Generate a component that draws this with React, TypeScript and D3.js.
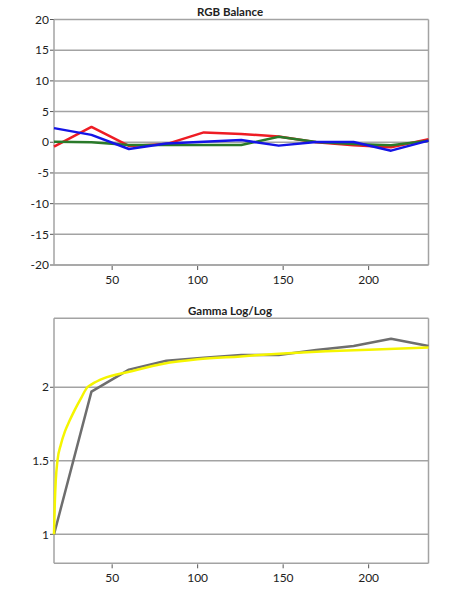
import React, { useEffect, useRef } from 'react';
import * as d3 from 'd3';

// stimulus levels (video 16-235, 10% steps)
const levels = [16, 37.9, 59.8, 81.7, 103.6, 125.5, 147.4, 169.3, 191.2, 213.1, 235];

// RGB balance deviations
const redBalance = [-0.7, 2.5, -0.6, -0.3, 1.6, 1.35, 0.95, 0.0, -0.5, -0.8, 0.5];
const greenBalance = [0.1, 0.0, -0.45, -0.45, -0.45, -0.45, 0.9, 0.05, -0.3, -0.5, 0.25];
const blueBalance = [2.3, 1.2, -1.1, -0.2, 0.1, 0.37, -0.55, 0.05, 0.05, -1.37, 0.27];

// measured gamma
const gammaMeasured = [1.0, 1.97, 2.12, 2.18, 2.2, 2.22, 2.22, 2.254, 2.28, 2.33, 2.28];

// target gamma curve
const targetX = [16, 16.5, 17, 18, 20, 22.4, 25, 28.3, 32, 35.5, 38, 45, 60, 80, 100, 125, 150, 175, 200, 235];
const targetY = [1.0, 1.22, 1.36, 1.5, 1.61, 1.7, 1.77, 1.85, 1.93, 2.0, 2.02, 2.06, 2.105, 2.16, 2.19, 2.21, 2.23, 2.245, 2.255, 2.27];

const balanceTicks = [-20, -15, -10, -5, 0, 5, 10, 15, 20];
const gammaTicks = [1, 1.5, 2];
const xTicks = [50, 100, 150, 200];

const FONT = 'Lato, "Open Sans", sans-serif';
const GRID = '#a3a3a3';

export default function App() {
    const svgRef = useRef<SVGSVGElement>(null);

    useEffect(() => {
        if (!svgRef.current) return;
        const svg = d3.select(svgRef.current);
        svg.selectAll('*').remove();

        const left = 54;
        const right = 428.5;

        const x = d3.scaleLinear().domain([16, 235]).range([left, right]);

        const drawXAxis = (yPos: number) => {
            const g = svg.append('g');
            g.append('line')
                .attr('x1', left).attr('x2', right)
                .attr('y1', yPos).attr('y2', yPos)
                .attr('stroke', GRID).attr('stroke-width', 1.5);
            g.selectAll('line.tick')
                .data(xTicks)
                .join('line')
                .attr('class', 'tick')
                .attr('x1', d => x(d)).attr('x2', d => x(d))
                .attr('y1', yPos + 1).attr('y2', yPos + 5)
                .attr('stroke', '#555').attr('stroke-width', 1);
            g.selectAll('text')
                .data(xTicks)
                .join('text')
                .attr('x', d => x(d))
                .attr('y', yPos + 19)
                .attr('text-anchor', 'middle')
                .attr('font-family', FONT)
                .attr('font-size', 12)
                .attr('fill', '#222')
                .text(d => d);
        };

        const drawYAxis = (y: d3.ScaleLinear<number, number>, ticks: number[], top: number, bottom: number) => {
            const g = svg.append('g');
            g.selectAll('line.grid')
                .data(ticks)
                .join('line')
                .attr('class', 'grid')
                .attr('x1', left).attr('x2', right)
                .attr('y1', d => y(d)).attr('y2', d => y(d))
                .attr('stroke', GRID).attr('stroke-width', 1.5);
            g.selectAll('line.tick')
                .data(ticks)
                .join('line')
                .attr('class', 'tick')
                .attr('x1', left - 4).attr('x2', left)
                .attr('y1', d => y(d)).attr('y2', d => y(d))
                .attr('stroke', '#555').attr('stroke-width', 1);
            g.selectAll('text')
                .data(ticks)
                .join('text')
                .attr('x', left - 5)
                .attr('y', d => y(d))
                .attr('dy', '0.35em')
                .attr('text-anchor', 'end')
                .attr('font-family', FONT)
                .attr('font-size', 12)
                .attr('fill', '#222')
                .text(d => d);
            // left and right borders
            g.append('line')
                .attr('x1', left).attr('x2', left)
                .attr('y1', top).attr('y2', bottom)
                .attr('stroke', GRID).attr('stroke-width', 1.5);
            g.append('line')
                .attr('x1', right).attr('x2', right)
                .attr('y1', top).attr('y2', bottom)
                .attr('stroke', GRID).attr('stroke-width', 1.5);
        };

        const title = (text: string, yPos: number) => {
            svg.append('text')
                .attr('x', 230)
                .attr('y', yPos)
                .attr('text-anchor', 'middle')
                .attr('font-family', FONT)
                .attr('font-size', 11.5)
                .attr('font-weight', 'bold')
                .attr('fill', '#222')
                .text(text);
        };

        // RGB Balance
        const topY = d3.scaleLinear().domain([-20, 20]).range([265, 19.5]);
        title('RGB Balance', 15.5);
        drawYAxis(topY, balanceTicks, 19.5, 265);
        drawXAxis(265);

        const balanceLine = d3.line<number>()
            .x((_, i) => x(levels[i]))
            .y(d => topY(d));

        const series: [number[], string][] = [
            [redBalance, '#ee1c24'],
            [greenBalance, '#2a7a2a'],
            [blueBalance, '#1414e6'],
        ];
        svg.append('g')
            .selectAll('path')
            .data(series)
            .join('path')
            .attr('d', d => balanceLine(d[0]))
            .attr('fill', 'none')
            .attr('stroke', d => d[1])
            .attr('stroke-width', 2.5)
            .attr('stroke-linejoin', 'round');

        // Gamma Log/Log
        const botY = d3.scaleLinear().domain([0.803, 2.469]).range([563.3, 318.3]);
        title('Gamma Log/Log', 314.5);
        drawYAxis(botY, gammaTicks, 318.3, 563.3);
        svg.append('line')
            .attr('x1', left).attr('x2', right)
            .attr('y1', 318.3).attr('y2', 318.3)
            .attr('stroke', GRID).attr('stroke-width', 1.5);
        drawXAxis(563.3);

        const gammaLine = d3.line<number>()
            .x((_, i) => x(levels[i]))
            .y(d => botY(d));

        svg.append('path')
            .attr('d', gammaLine(gammaMeasured))
            .attr('fill', 'none')
            .attr('stroke', '#6e6e6e')
            .attr('stroke-width', 2.5)
            .attr('stroke-linejoin', 'round');

        const targetLine = d3.line<number>()
            .x((_, i) => x(targetX[i]))
            .y(d => botY(d))
            .curve(d3.curveMonotoneX);

        svg.append('path')
            .attr('d', targetLine(targetY))
            .attr('fill', 'none')
            .attr('stroke', '#f5f500')
            .attr('stroke-width', 2.5);
    }, []);

    return (
        <svg
            ref={svgRef}
            width={464}
            height={591}
            style={{ position: 'absolute', left: 0, top: 0, background: '#fff' }}
        />
    );
}
